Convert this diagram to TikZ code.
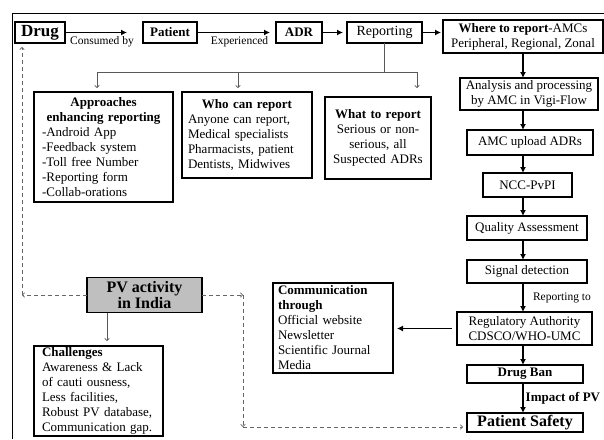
\documentclass[tikz,border=0pt]{standalone}
\usepackage{fontspec}
\setmainfont{Liberation Serif}
\usepackage{tikz}
\usetikzlibrary{arrows.meta}
\usetikzlibrary{positioning}
\tikzset{
box/.style={draw,
  line width=1.3pt,
    inner sep=1pt,
    outer sep=0pt,
    align=center,
    font=\fontsize{13}{15}\selectfont},
listbox/.style={box,
  align=left},
flow/.style={-{Latex[length=6pt,width=6pt]},
  line width=1.4pt},
branch/.style={draw=black!65,
  line width=0.7pt},
link/.style={draw=black!60,
  line width=0.7pt,
  dash pattern=on 4pt off 3pt,
  -{To[length=3pt,width=5pt]}},
lbl/.style={font=\fontsize{11.5}{13}\selectfont},
}

\begin{document}
\begin{tikzpicture}[x=1pt,y=-1pt]
  \useasboundingbox (0,0) rectangle (604,439);

  % outer frame
  \draw [line width=0.8pt] (12,439) -- (12,13) -- (604,13);

  % Nodes, top row
  \node [box, minimum width=50pt, minimum height=21pt, font=\fontsize{17}{19}\selectfont\bfseries] (drug) at (40,32.5) {Drug};
  \node [box, right=78pt of drug, minimum width=54pt, minimum height=21pt, font=\fontsize{13}{15}\selectfont\bfseries] (patient) {Patient};
  \node [box, right=79pt of patient, minimum width=46pt, minimum height=21pt, font=\fontsize{13}{15}\selectfont\bfseries] (adr) {ADR};
  \node [box, right=25pt of adr, minimum width=75pt, minimum height=21pt, font=\fontsize{14}{16}\selectfont] (reporting) {Reporting};
  \node [box, right=21pt of reporting, yshift=-4pt, minimum width=160pt, minimum height=33pt] (where) {\textbf{Where to report}-AMCs\\Peripheral, Regional, Zonal};

  % Nodes, right column
  \node [box, below=25pt of where, xshift=6pt, minimum width=138pt, minimum height=32pt] (analysis) {Analysis and processing\\by AMC in Vigi-Flow};
  \node [box, below=20pt of analysis, xshift=1pt, minimum width=126pt, minimum height=25pt] (upload) {AMC upload ADRs};
  \node [box, below=18pt of upload, xshift=-2.5pt, minimum width=89pt, minimum height=24pt] (ncc) {NCC-PvPI};
  \node [box, below=19pt of ncc, xshift=-0.5pt, minimum width=120pt, minimum height=24pt] (quality) {Quality Assessment};
  \node [box, below=20pt of quality, minimum width=120pt, minimum height=23pt] (signal) {Signal detection};
  \node [box, below=29pt of signal, xshift=-2.5pt, minimum width=135pt, minimum height=33pt] (regulatory) {Regulatory Authority\\CDSCO/WHO-UMC};
  \node [box, below=20pt of regulatory, xshift=0.5pt, minimum width=116pt, minimum height=18pt, font=\fontsize{13}{15}\selectfont\bfseries] (drugban) {Drug Ban};
  \node [box, below=30pt of drugban, minimum width=116pt, minimum height=19pt, font=\fontsize{16}{18}\selectfont\bfseries] (safety) {Patient Safety};

  % Nodes, reporting details
  \node [listbox, inner xsep=8pt, text width=123pt, minimum height=110pt] (approaches) at (103.5,147)
    {{\centering\bfseries Approaches\\enhancing reporting\par}-Android App\\-Feedback system\\-Toll free Number\\-Reporting form\\-Collab-orations};
  \node [listbox, inner xsep=6pt, text width=118pt, minimum height=86pt] (who) at (247,135)
    {{\centering\bfseries Who can report\par}Anyone can report,\\Medical specialists\\Pharmacists, patient\\Dentists, Midwives};
  \node [box, text width=104pt, minimum height=82pt] (what) at (378,138)
    {\textbf{What to report}\\Serious or non-\\serious, all\\Suspected ADRs};

  % Nodes, PV activity
  \node [box, fill=black!25, minimum width=115pt, minimum height=35pt, font=\fontsize{16}{16}\selectfont\bfseries] (pv) at (144.5,295) {PV activity\\in India};
  \node [listbox, inner xsep=8pt, text width=113pt, minimum height=90pt] (challenges) at (98.5,391)
    {\textbf{Challenges}\\Awareness \& Lack\\of cauti ousness,\\Less facilities,\\Robust PV database,\\Communication gap.};
  \node [listbox, inner xsep=5pt, text width=110pt, minimum height=90pt] (comm) at (333,328)
    {\textbf{Communication}\\\textbf{through}\\Official website\\Newsletter\\Scientific Journal\\Media};

  % helper points
  \coordinate (bus) at (384,72);
  \coordinate (busL) at (97,72);
  \coordinate (busM) at (238,72);
  \coordinate (busR) at (417,72);
  \coordinate (pvL) at (22,295);
  \coordinate (pvR) at (243,295);
  \coordinate (pvB) at (243,427);

  % Edges, top row
  \draw [-{Latex[length=6pt,width=6pt]}, line width=1.2pt, shorten >=16pt] (drug.east) -- (patient.west)
    node [lbl, below, midway, xshift=-2pt] {Consumed by};
  \draw [-{Latex[length=6pt,width=6pt]}, line width=1.2pt, shorten >=6pt] (patient.east) -- (adr.west)
    node [lbl, below, midway, xshift=3pt] {Experienced};
  \draw [-{Latex[length=6pt,width=6pt]}, line width=1.2pt, shorten >=4pt] (adr.east) -- (reporting.west);
  \draw [-{Latex[length=6pt,width=6pt]}, line width=1.2pt, shorten >=2pt] (reporting.east) -- (reporting.east -| where.west);

  % Edges, right column
  \draw [flow] (where.south) -- (where.south |- analysis.north);
  \draw [flow] (analysis.south -| where.south) -- (upload.north -| where.south);
  \draw [flow] (upload.south -| where.south) -- (ncc.north -| where.south);
  \draw [flow] (ncc.south -| where.south) -- (quality.north -| where.south);
  \draw [flow] (quality.south -| where.south) -- (signal.north -| where.south);
  \draw [flow] (signal.south -| where.south) -- (regulatory.north -| where.south)
    node [lbl, right=6pt, midway] {Reporting to};
  \draw [flow] (regulatory.south -| where.south) -- (drugban.north -| where.south);
  \draw [flow] (drugban.south -| where.south) -- (safety.north -| where.south)
    node [right=0pt, inner sep=2pt, midway, font=\fontsize{13}{15}\selectfont\bfseries] {Impact of PV};
  \draw [-{Latex[length=6pt,width=6pt]}, line width=1.1pt, shorten <=5pt, shorten >=4pt] (regulatory.west) -- (regulatory.west -| comm.east);

  % Edges, reporting branch
  \draw [branch] (reporting.south -| bus) -- (bus);
  \draw [branch] (busL) -- (busR);
  \draw [branch, -{To[length=3pt,width=5pt]}, shorten >=4pt] (busL) -- (busL |- approaches.north);
  \draw [branch, -{To[length=3pt,width=5pt]}, shorten >=4pt] (busM) -- (busM |- who.north);
  \draw [branch, -{To[length=3pt,width=5pt]}, shorten >=9pt] (busR) -- (busR |- what.north);

  % Edges, PV activity
  \draw [branch, -{To[length=3pt,width=5pt]}, shorten >=5pt] ([xshift=-37.5pt]pv.south) -- ([xshift=-37.5pt]pv.south |- challenges.north);
  \draw [link] (pv.west) -- (pvL);
  \draw [link, shorten >=4pt] (pvL) -- (pvL |- drug.south);
  \draw [link] (pv.east) -- (pvR);
  \draw [link] (pvR) -- (pvB);
  \draw [link, shorten >=4pt] (pvB) -- (pvB -| safety.west);
\end{tikzpicture}
\end{document}
